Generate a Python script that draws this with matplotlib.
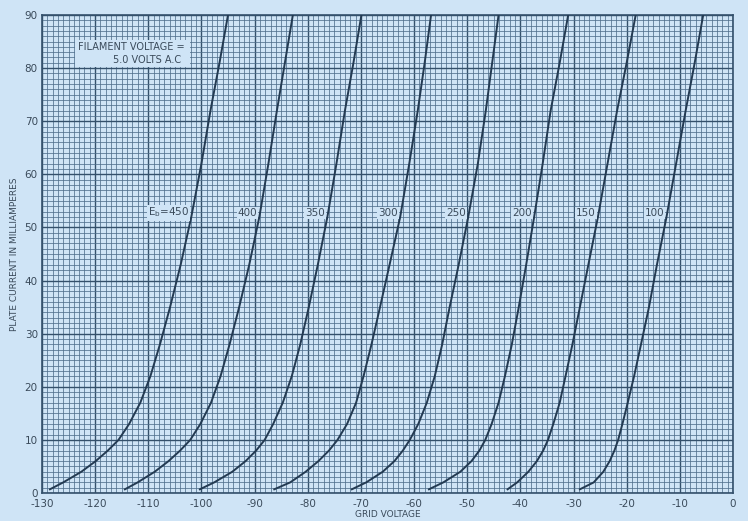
import matplotlib.pyplot as plt
from matplotlib.patches import Rectangle
from matplotlib.ticker import MultipleLocator

plt.rcParams['axes.unicode_minus'] = False

# plate current steps (mA) at which the grid voltage of each curve was read
plate_ma = [0.7, 2, 4, 6, 8, 10, 13, 17, 22, 28, 35, 43, 52, 62, 72, 81, 90]

# grid voltage for each plate voltage E_b
grid_450 = [-128.5, -126.0, -122.6, -119.9, -117.6, -115.6, -113.6, -111.5, -109.6,
            -107.8, -105.9, -103.9, -101.9, -100.0, -98.3, -96.6, -95.0]
grid_400 = [-114.4, -112.0, -108.8, -106.2, -104.0, -102.1, -100.2, -98.2, -96.4,
            -94.7, -92.9, -91.0, -89.1, -87.4, -85.8, -84.3, -82.8]
grid_350 = [-100.3, -97.6, -94.2, -91.7, -89.7, -88.1, -86.5, -84.7, -83.0,
            -81.4, -79.8, -78.1, -76.3, -74.6, -73.0, -71.4, -69.9]
grid_300 = [-86.3, -83.3, -80.4, -78.0, -76.0, -74.4, -72.6, -70.9, -69.5,
            -68.0, -66.4, -64.6, -62.6, -60.9, -59.3, -58.0, -56.8]
grid_250 = [-71.7, -69.0, -65.9, -63.7, -62.1, -60.8, -59.2, -57.6, -56.1,
            -54.7, -53.3, -51.6, -49.8, -48.0, -46.5, -45.3, -44.1]
grid_200 = [-57.2, -54.5, -51.3, -49.2, -47.7, -46.6, -45.4, -44.1, -42.9,
            -41.6, -40.3, -38.9, -37.4, -35.8, -34.3, -32.6, -31.0]
grid_150 = [-42.4, -40.6, -38.5, -36.9, -35.7, -34.8, -33.8, -32.6, -31.5,
            -30.2, -28.8, -27.2, -25.4, -23.6, -21.8, -20.0, -18.3]
grid_100 = [-28.8, -26.2, -24.4, -23.2, -22.3, -21.6, -20.8, -19.8, -18.6,
            -17.3, -15.8, -14.3, -12.5, -10.7, -8.9, -7.2, -5.6]

curves = [grid_450, grid_400, grid_350, grid_300, grid_250, grid_200, grid_150, grid_100]
curve_labels = ['E$_\\mathregular{b}$=450', '400', '350', '300', '250', '200', '150', '100']
label_x = [-102.3, -89.5, -76.7, -63.0, -50.2, -37.8, -25.8, -12.9]
label_ma = 52.8

bg = '#cfe4f6'
ink = '#34506b'
curve_ink = '#233a52'
txt = '#3a4a5a'
narrow = ['Liberation Sans Narrow', 'DejaVu Sans']

fig = plt.figure(figsize=(7.48, 5.21), dpi=100, facecolor=bg)
ax = fig.add_axes([0.0561, 0.0537, 0.9238, 0.9175], facecolor=bg)

ax.set_xlim(-130, 0)
ax.set_ylim(0, 90)
ax.xaxis.set_major_locator(MultipleLocator(10))
ax.xaxis.set_minor_locator(MultipleLocator(1))
ax.yaxis.set_major_locator(MultipleLocator(10))
ax.yaxis.set_minor_locator(MultipleLocator(1))
ax.set_axisbelow(True)
ax.grid(which='major', color=ink, linewidth=1.0)
ax.grid(which='minor', color='#4f6f8c', linewidth=0.6, alpha=0.9)
ax.tick_params(which='both', length=0, colors=txt, labelsize=7.5)
ax.tick_params(axis='x', pad=4)
ax.tick_params(axis='y', pad=3)
for s in ax.spines.values():
    s.set_color(ink)
    s.set_linewidth(1.2)

for gx in curves:
    ax.plot(gx, plate_ma, color=curve_ink, linewidth=1.4, zorder=3)

for lab, lx in zip(curve_labels, label_x):
    ax.text(lx, label_ma, lab, ha='right', va='center', fontsize=7.5, color=txt,
            family=narrow, zorder=4,
            bbox=dict(boxstyle='square,pad=0.1', facecolor=bg, edgecolor='none'))

# note box in the upper left corner
ax.add_patch(Rectangle((-123.8, 80.2), 21.6, 5.1, facecolor=bg, edgecolor='none', zorder=2))
ax.text(-123.2, 83.9, 'FILAMENT VOLTAGE =', fontsize=7, color=txt, va='center', zorder=4)
ax.text(-116.6, 81.6, '5.0 VOLTS A.C', fontsize=7, color=txt, va='center', zorder=4)

ax.set_xlabel('GRID VOLTAGE', fontsize=6.5, color=txt, labelpad=1)
ax.set_ylabel('PLATE CURRENT IN MILLIAMPERES', fontsize=6.5, color=txt, labelpad=4)

fig.savefig('out.png', dpi=100, facecolor=bg)
